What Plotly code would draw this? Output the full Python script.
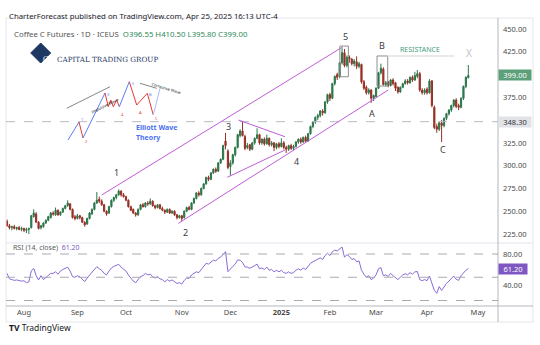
import pandas as pd
import plotly.graph_objects as go

# ---------------- data ----------------
holidays = ['2024-09-02', '2024-11-28', '2024-12-25', '2025-01-01', '2025-01-09',
            '2025-01-20', '2025-02-17', '2025-04-18']
first_bar, last_bar, view_end = '2024-07-23', '2025-04-25', '2025-05-16'
calendar = [d for d in pd.bdate_range(first_bar, view_end) if d.strftime('%Y-%m-%d') not in holidays]
dates = [d for d in calendar if d <= pd.Timestamp(last_bar)]

opens = [239,234,232,233,231,232,230,231,229,230,
         232,244,247,238,232,233,237,240,243,248,
         246,251,246,249,253,256,258,252,244,242,
         245,243,238,236,242,247,252,259,263,261,
         257,250,248,255,262,265,268,272,268,266,
         262,255,252,248,246,252,257,255,259,258,
         261,256,254,257,253,251,249,252,248,250,
         246,243,245,243,250,254,252,259,264,270,
         268,275,280,287,285,292,296,294,303,307,
         327,316,299,303,312,320,333,338,332,320,
         323,318,325,330,334,325,329,324,330,323,
         325,320,324,321,325,320,318,322,319,321,
         326,329,326,331,327,335,343,348,353,355,
         360,358,370,378,374,390,400,398,413,424,
         410,419,417,412,414,409,411,392,386,380,
         383,374,376,385,402,406,389,392,388,394,
         391,386,381,386,390,393,391,397,394,398,
         401,383,380,384,380,393,364,343,340,347,
         344,352,357,361,366,372,366,364,374,387,
         396.55]
highs = [241,236,234,235,233,234,233,232,232,232,
         246,252,249,239,235,238,241,245,249,250,
         254,252,250,254,257,262,259,253,246,247,
         246,244,239,243,249,253,260,271,266,263,
         258,251,256,263,266,269,274,273,270,267,
         263,256,253,249,253,258,259,260,261,264,
         262,257,258,258,255,252,253,253,251,251,
         247,246,246,251,255,256,260,265,271,272,
         276,281,288,289,293,297,298,304,308,323,
         336,318,306,313,321,335,340,348,334,325,
         324,326,331,341,335,330,331,334,331,327,
         326,325,326,330,327,322,323,324,323,327,
         330,331,332,333,336,344,349,354,357,361,
         362,371,379,380,391,399,402,414,429,428,
         421,421,418,417,420,414,412,394,388,385,
         384,378,386,403,412,408,393,393,395,396,
         392,387,387,391,395,395,398,399,403,405,
         403,385,385,386,395,394,366,346,348,350,
         353,358,362,367,373,374,368,375,388,398,
         410.5]
lows = [233,230,229,230,229,229,228,227,226,225,
        231,243,237,230,230,232,236,239,242,245,
        245,245,245,248,252,255,251,242,240,241,
        241,237,233,235,241,246,251,258,259,256,
        249,245,247,254,260,263,267,266,265,261,
        254,250,247,244,245,251,254,254,256,257,
        255,252,253,252,250,247,248,247,247,245,
        241,242,239,242,249,251,251,258,263,266,
        267,274,279,283,284,291,292,293,302,306,
        318,296,289,301,310,319,331,332,317,318,
        316,317,323,329,323,323,322,323,321,321,
        316,318,319,320,318,314,316,317,317,320,
        324,324,325,326,326,334,341,346,350,353,
        355,357,368,371,373,388,394,396,411,408,
        408,413,410,409,406,407,390,383,378,378,
        369,371,375,384,400,388,387,386,387,388,
        382,379,380,385,389,389,390,392,393,396,
        381,378,378,378,379,364,340,336,338,326,
        342,350,355,359,364,363,361,363,372,385,
        395.8]
closes = [234,232,233,231,232,230,231,229,230,231,
          245,248,238,231,234,237,240,244,248,247,
          251,246,249,253,256,259,252,243,242,245,
          243,238,235,242,248,252,259,262,261,257,
          250,247,255,262,265,268,272,268,266,262,
          255,251,248,246,252,257,255,259,258,261,
          256,254,257,253,251,249,252,248,250,246,
          243,245,242,250,254,252,259,264,270,268,
          275,280,287,285,292,296,294,303,307,322,
          322,298,303,312,320,334,338,333,319,322,
          318,325,330,334,325,329,324,330,323,325,
          320,324,321,325,320,318,322,319,321,326,
          329,326,331,327,335,343,348,353,355,360,
          358,370,378,374,390,398,397,413,424,410,
          419,417,412,415,409,412,392,385,380,383,
          374,377,385,402,407,389,391,388,394,390,
          385,381,386,390,393,391,397,394,399,401,
          383,380,383,380,393,366,342,340,347,344,
          352,357,361,366,372,365,364,374,387,397,
          399.0]
rsi = [55,48,47,46,46.5,46,45,45.5,43,44,
       58,61.5,52,46.5,52,47,50,53,55,55,
       57,54,58,60,61.6,63,58,50.7,50,52,
       50.7,47,44.3,49,53,57,61,63.7,61,59,
       55,53,58,62,64,65.5,66.7,63,61,58,
       53,49,45,43,46.5,51,52,55,53,54,
       50.7,49,50.7,48,47,44,47,45,46.5,44,
       42,43,41.3,46,49,48.6,53,55,57,56,
       60,64,68,67,70,72,71,74.4,76,80,
       83,57.2,60,64,67,72.3,72,69,63.4,63,
       61.6,63,65,67,61,62,60,63,59,60,
       57,59,57,59,56,55,57,55,56,59,
       61,59,62,60,64,68,70,72,73,75,
       73,78,81,78,83,85,84,87,89,76,
       79,77,73,74,70,71,59,54,50,52,
       47,49,53,61,62.4,52,53,51,55,52,
       49,47,50,53,54.5,53,56,54,57,57.4,
       47,45.6,47,45.6,51.6,41,33,29.3,38,33,
       38,42,45,48,51.6,47.3,46,52,56,59,
       61.2]

month_keys = ['2024-08', '2024-09', '2024-10', '2024-11', '2024-12',
              '2025-01', '2025-02', '2025-03', '2025-04', '2025-05']
month_labels = ['Aug', 'Sep', 'Oct', 'Nov', 'Dec', '<b>2025</b>', 'Feb', 'Mar', 'Apr', 'May']
price_ticks = [225, 250, 275, 300, 325, 375, 425, 450]
rsi_ticks = [40, 80]
rsi_bands = [80, 50, 20]
level_line = 348.30

# drawings (bar index, price)
channel_upper = [(39.0, 267.8), (138.4, 430.6)]
channel_lower = [(70.6, 236.7), (157.0, 383.0)]
triangle_upper = [(95.3, 350.1), (114.5, 331.8)]
triangle_lower = [(90.7, 287.2), (114.5, 317.2)]
box_wave5 = [(137.1, 397.6), (140.6, 431.3)]
box_wave_b = [(152.4, 387.4), (156.8, 420.4)]
resistance = [(156.4, 420.4), (184.2, 420.4)]
wave_labels = ['1', '2', '3', '4', '5', 'A', 'B', 'C']
wave_pos = [(45.3, 292.3), (73.6, 226.4), (91.4, 342.8), (119.3, 304.3),
            (139.5, 441.5), (150.2, 357.5), (154.3, 432.4), (179.4, 317.9)]

# --------------- figure ----------------
bar_x = list(range(len(dates)))
tick_x = [next(i for i, d in enumerate(calendar) if d.strftime('%Y-%m') == k) for k in month_keys]

UP = '#2d764b'
DN = '#992f24'
FONT = 'Noto Sans'
TXT = '#4a4a4a'

W, H = 540, 345
ML, MR, MT, MB = 6, 42, 18, 39
PW, PH = W - ML - MR, H - MT - MB


def PX(x):
    return (x - ML) / PW


def PY(y):
    return (H - MB - y) / PH


fig = go.Figure()
fig.add_trace(go.Candlestick(
    x=bar_x, open=opens, high=highs, low=lows, close=closes,
    xaxis='x', yaxis='y',
    increasing=dict(line=dict(color=UP, width=1), fillcolor=UP),
    decreasing=dict(line=dict(color=DN, width=1), fillcolor=DN),
    whiskerwidth=0, showlegend=False, hoverinfo='skip'))
fig.add_trace(go.Scatter(x=bar_x, y=rsi, xaxis='x', yaxis='y2', mode='lines',
                         line=dict(color='#8a6ad6', width=1), showlegend=False,
                         hoverinfo='skip'))

shapes = []
annotations = []

# frame and pane separators
shapes.append(dict(type='rect', xref='paper', yref='paper', x0=PX(6), x1=PX(533),
                   y0=PY(322), y1=PY(18), line=dict(color='#e4e6eb', width=1)))
shapes.append(dict(type='line', xref='paper', yref='paper', x0=PX(6), x1=PX(533),
                   y0=PY(243), y1=PY(243), line=dict(color='#e0e3eb', width=1)))
shapes.append(dict(type='line', xref='paper', yref='paper', x0=PX(6), x1=PX(533),
                   y0=0, y1=0, line=dict(color='#b4b7bf', width=1)))
shapes.append(dict(type='line', xref='paper', yref='paper', x0=1, x1=1,
                   y0=PY(322), y1=PY(18), line=dict(color='#b4b7bf', width=1)))

# RSI bands
for b in rsi_bands:
    shapes.append(dict(type='line', xref='paper', yref='y2', x0=0, x1=1, y0=b, y1=b,
                       line=dict(color='#a8abb3', width=1, dash='dash')))
# horizontal level
shapes.append(dict(type='line', xref='paper', yref='y', x0=0, x1=1, y0=level_line, y1=level_line,
                   line=dict(color='#b8bbc2', width=1, dash='dash')))

PURPLE = '#bf5cd6'
for seg in (channel_upper, channel_lower, triangle_upper, triangle_lower):
    shapes.append(dict(type='line', xref='x', yref='y', x0=seg[0][0], y0=seg[0][1],
                       x1=seg[1][0], y1=seg[1][1], line=dict(color=PURPLE, width=1)))
for bx in (box_wave5, box_wave_b):
    shapes.append(dict(type='rect', xref='x', yref='y', x0=bx[0][0], y0=bx[0][1],
                       x1=bx[1][0], y1=bx[1][1], line=dict(color='#8f8f8f', width=1)))
shapes.append(dict(type='line', xref='x', yref='y', x0=resistance[0][0], y0=resistance[0][1],
                   x1=resistance[1][0], y1=resistance[1][1], line=dict(color='#d4d4d4', width=1)))

for lab, (xi, yi) in zip(wave_labels, wave_pos):
    annotations.append(dict(x=xi, y=yi, xref='x', yref='y', text=lab, showarrow=False,
                            font=dict(family=FONT, size=9, color='#3d3d3d')))
annotations.append(dict(x=170.1, y=427, xref='x', yref='y', text='RESISTANCE', showarrow=False,
                        font=dict(family=FONT, size=7, color='#449c7c')))
annotations.append(dict(x=190.3, y=423.7, xref='x', yref='y', text='X', showarrow=False,
                        font=dict(family=FONT, size=10, color='#c4c4c4')))

# price scale labels
annotations.append(dict(xref='paper', x=1, xanchor='left', yref='y', y=closes[-1],
                        text=f'{closes[-1]:.2f}', showarrow=False, bgcolor='#5c9f7b',
                        font=dict(family=FONT, size=7.5, color='white'), width=32, height=10,
                        borderpad=0))
annotations.append(dict(xref='paper', x=1, xanchor='left', yref='y', y=level_line,
                        text=f'{level_line:.2f}', showarrow=False, bgcolor='#e1e3e8',
                        font=dict(family=FONT, size=7.5, color='#333333'), width=32, height=10,
                        borderpad=0))
annotations.append(dict(xref='paper', x=1, xanchor='left', yref='y2', y=rsi[-1],
                        text=f'{rsi[-1]:.2f}', showarrow=False, bgcolor='#7e57c2',
                        font=dict(family=FONT, size=7.5, color='white'), width=28, height=10,
                        borderpad=0))

# header and legends
annotations.append(dict(xref='paper', yref='paper', x=PX(7), y=PY(9), xanchor='left',
                        text='CharterForecast published on TradingView.com, Apr 25, 2025 16:13 UTC-4',
                        showarrow=False, font=dict(family=FONT, size=7.8, color='#1e222d')))
ohlc = (f"O{opens[-1]:.2f} H{highs[-1]:.2f} L{lows[-1]:.2f} C{closes[-1]:.2f}")
annotations.append(dict(xref='paper', yref='paper', x=PX(12), y=PY(27), xanchor='left',
                        text=f"Coffee C Futures · 1D · ICEUS  <span style='color:#2f8a5a'>{ohlc}</span>",
                        showarrow=False, font=dict(family=FONT, size=7.8, color='#555555')))
annotations.append(dict(xref='paper', yref='paper', x=PX(11), y=PY(254), xanchor='left',
                        text=f"RSI (14, close)  <span style='color:#7e57c2'>{rsi[-1]:.2f}</span>",
                        showarrow=False, font=dict(family=FONT, size=7, color='#5a5a5a')))
annotations.append(dict(xref='paper', yref='paper', x=PX(7), y=PY(335), xanchor='left',
                        text="<b>TV</b> TradingView", showarrow=False,
                        font=dict(family=FONT, size=8.5, color='#131722')))

# logo
NAVY = '#1f3763'
cx, cy, r = 40.7, 53, 10
shapes.append(dict(type='path', xref='paper', yref='paper',
                   path=f'M {PX(cx)},{PY(cy - r)} L {PX(cx + r)},{PY(cy)} L {PX(cx)},{PY(cy + r)} L {PX(cx - r)},{PY(cy)} Z',
                   fillcolor=NAVY, line=dict(color=NAVY, width=1)))
annotations.append(dict(xref='paper', yref='paper', x=PX(cx), y=PY(cy), text='CT', showarrow=False,
                        font=dict(family='Liberation Serif', size=8, color='white')))
annotations.append(dict(xref='paper', yref='paper', x=PX(55), y=PY(53), xanchor='left',
                        text='CAPITAL TRADING GROUP', showarrow=False,
                        font=dict(family='DejaVu Serif', size=7.2, color=NAVY)))

# Elliott wave inset illustration
BLUE, RED = '#5b7cf7', '#e53935'
inset = [
    (BLUE, [(68, 140), (79, 122)]),
    (RED, [(79, 122), (83, 138)]),
    (BLUE, [(83, 138), (105, 93)]),
    (RED, [(105, 93), (108.3, 106.7), (110.7, 100), (113.3, 106.7), (116.7, 100), (119.3, 106.7)]),
    (BLUE, [(119.3, 106.7), (129.3, 81.7)]),
    (RED, [(129.3, 81.7), (136.7, 105), (147.3, 93.3), (153.3, 115)]),
    ('#a9bcfa', [(153.3, 115), (160, 88.3)]),
]
for col, pts in inset:
    path = 'M ' + ' L '.join(f'{PX(a)},{PY(b)}' for a, b in pts)
    shapes.append(dict(type='path', xref='paper', yref='paper', path=path,
                       line=dict(color=col, width=1)))
for t, (a, b), col in [('1', (79, 119), BLUE), ('2', (83, 141), RED), ('3', (105, 90), BLUE),
                       ('4', (119, 110), RED), ('5', (130, 79), BLUE), ('A', (137, 108), RED),
                       ('B', (147, 90), BLUE), ('C', (153, 118), RED)]:
    annotations.append(dict(xref='paper', yref='paper', x=PX(a), y=PY(b), text=t, showarrow=False,
                            font=dict(family=FONT, size=4, color=col)))
shapes.append(dict(type='line', xref='paper', yref='paper', x0=PX(66.7), y0=PY(108.3),
                   x1=PX(110), y1=PY(86.7), line=dict(color='#333333', width=0.6)))
annotations.append(dict(xref='paper', yref='paper', x=PX(88), y=PY(94), text='Impulsive Wave',
                        textangle=-26, showarrow=False, font=dict(family=FONT, size=4, color='#222')))
shapes.append(dict(type='line', xref='paper', yref='paper', x0=PX(140), y0=PY(83.3),
                   x1=PX(156.7), y1=PY(88.3), line=dict(color='#333333', width=0.6)))
annotations.append(dict(xref='paper', yref='paper', x=PX(148.5), y=PY(79), text='Corrective Wave',
                        textangle=17, showarrow=False, font=dict(family=FONT, size=4, color='#222')))
annotations.append(dict(xref='paper', yref='paper', x=PX(134), y=PY(127), text='<b>Elliott Wave</b>',
                        showarrow=False, font=dict(family=FONT, size=7, color='#4a70f0')))
annotations.append(dict(xref='paper', yref='paper', x=PX(134), y=PY(137), text='<b>Theory</b>',
                        showarrow=False, font=dict(family=FONT, size=7, color='#4a70f0')))

px_per_bar = 2.428
x0 = -1.0 / px_per_bar
x1 = x0 + PW / px_per_bar
rsi_split = (H - MB - 243) / PH

axis_font = dict(family=FONT, size=7.5, color=TXT)
fig.update_layout(
    width=W, height=H, margin=dict(l=ML, r=MR, t=MT, b=MB, pad=0),
    paper_bgcolor='white', plot_bgcolor='white',
    xaxis=dict(domain=[0, 1], range=[x0, x1], anchor='y2', tickvals=tick_x, ticktext=month_labels,
               ticks='', showgrid=False, zeroline=False, showline=False, tickfont=axis_font,
               rangeslider=dict(visible=False), fixedrange=True),
    yaxis=dict(domain=[rsi_split, 1], range=[215.1, 462.1], side='right', anchor='x',
               tickvals=price_ticks, ticktext=[f'{v:.2f}' for v in price_ticks], ticks='',
               showgrid=False, zeroline=False, showline=False, tickfont=axis_font,
               ticklabelstandoff=4),
    yaxis2=dict(domain=[0, rsi_split], range=[12.9, 94.2], side='right', anchor='x',
                tickvals=rsi_ticks, ticktext=[f'{v:.2f}' for v in rsi_ticks], ticks='',
                showgrid=False, zeroline=False, showline=False, tickfont=axis_font,
                ticklabelstandoff=4),
    shapes=shapes, annotations=annotations, showlegend=False,
)

fig.write_html('out.html', config={'displayModeBar': False})
